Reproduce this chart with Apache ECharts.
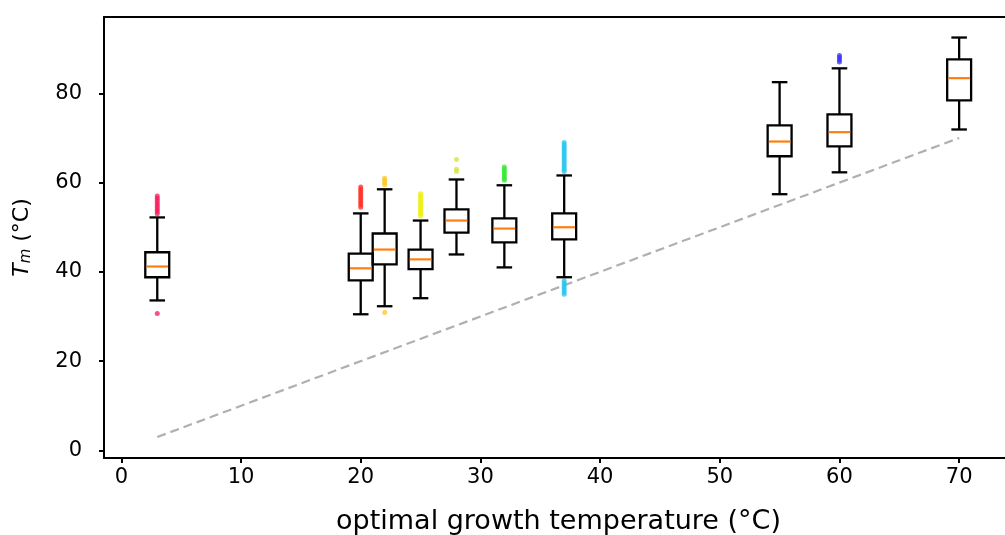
<!DOCTYPE html>
<html>
<head>
<meta charset="utf-8">
<script src="https://cdn.jsdelivr.net/npm/echarts@6/dist/echarts.min.js"></script>
<style>
html,body{margin:0;padding:0;background:#fff;}
#chart{width:1005px;height:535px;}
</style>
</head>
<body>
<div id="chart"></div>
<script>
// ---- data ----
const positions   = [3, 20, 22, 25, 28, 32, 37, 55, 60, 70];
const whiskerLow  = [33.6, 30.5, 32.3, 34.1, 43.9, 41.0, 38.8, 57.4, 62.3, 71.9];
const q1          = [38.8, 38.1, 41.7, 40.6, 48.8, 46.6, 47.3, 65.9, 68.1, 78.4];
const medians     = [41.2, 40.8, 45.0, 42.8, 51.5, 49.7, 50.0, 69.2, 71.3, 83.4];
const q3          = [44.4, 44.1, 48.6, 45.0, 54.0, 52.0, 53.1, 72.8, 75.3, 87.6];
const whiskerHigh = [52.2, 53.1, 58.5, 51.5, 60.7, 59.4, 61.6, 82.5, 85.6, 92.5];

const outliers3  = [53.0, 53.5, 54.0, 54.5, 55.0, 55.5, 56.0, 56.5, 57.0, 30.7];
const outliers20 = [54.5, 55.0, 55.5, 56.0, 56.5, 57.0, 57.5, 58.0, 58.5, 59.0];
const outliers22 = [59.5, 60.0, 60.5, 61.0, 30.9];
const outliers25 = [52.5, 53.0, 53.5, 54.0, 54.5, 55.0, 55.5, 56.0, 56.5, 57.0, 57.5];
const outliers28 = [62.5, 63.0, 65.2];
const outliers32 = [60.5, 61.0, 61.5, 62.0, 62.5, 63.0, 63.5];
const outliers37 = [62.5, 63.0, 63.5, 64.0, 64.5, 65.0, 65.5, 66.0, 66.5, 67.0, 67.5, 68.0, 68.5, 69.0,
                    35.0, 35.5, 36.0, 36.5, 37.0, 37.5, 38.0];
const outliers55 = [];
const outliers60 = [87.0, 87.5, 88.0, 88.5];
const outliers70 = [];
const outlierGroups = [outliers3, outliers20, outliers22, outliers25, outliers28,
                       outliers32, outliers37, outliers55, outliers60, outliers70];

const refLineX = [3, 70];
const refLineY = [3, 70];

const xTicks = [0, 10, 20, 30, 40, 50, 60, 70];
const yTicks = [0, 20, 40, 60, 80];

const xLabel = 'optimal growth temperature (°C)';
const yLabel = '{it|T}{sub|m}{n| (°C)}';

// ---- styles ----
const outlierColors = ['#f8175a', '#ff2a1f', '#ffc41f', '#eef000', '#d4e23c',
                       '#2ee82e', '#22c4ee', '#888888', '#3a2cff', '#888888'];
const FONT = 'DejaVu Sans';

// ---- build ----
const boxData = positions.map((p, i) => [p, whiskerLow[i], q1[i], medians[i], q3[i], whiskerHigh[i]]);

const BOX_W = 2.0;   // data units
const CAP_W = 1.3;

function renderBox(params, api) {
  const x = api.value(0);
  const pLo = api.coord([x, api.value(1)]);
  const pQ1 = api.coord([x, api.value(2)]);
  const pMd = api.coord([x, api.value(3)]);
  const pQ3 = api.coord([x, api.value(4)]);
  const pHi = api.coord([x, api.value(5)]);
  const hw = api.size([BOX_W, 0])[0] / 2;
  const cw = api.size([CAP_W, 0])[0] / 2;
  const cx = pMd[0];
  const blk = {stroke: '#000', lineWidth: 2.3, fill: null};
  return {
    type: 'group',
    children: [
      {type: 'line', shape: {x1: cx, y1: pLo[1], x2: cx, y2: pQ1[1]}, style: blk},
      {type: 'line', shape: {x1: cx, y1: pQ3[1], x2: cx, y2: pHi[1]}, style: blk},
      {type: 'line', shape: {x1: cx - cw, y1: pLo[1], x2: cx + cw, y2: pLo[1]}, style: blk},
      {type: 'line', shape: {x1: cx - cw, y1: pHi[1], x2: cx + cw, y2: pHi[1]}, style: blk},
      {type: 'rect', shape: {x: cx - hw, y: pQ3[1], width: 2 * hw, height: pQ1[1] - pQ3[1]},
       style: {stroke: '#000', lineWidth: 2.3, fill: 'rgba(255,255,255,0)'}},
      {type: 'line', shape: {x1: cx - hw + 1.2, y1: pMd[1], x2: cx + hw - 1.2, y2: pMd[1]},
       style: {stroke: '#ff7f0e', lineWidth: 2.2}}
    ]
  };
}

const scatterSeries = outlierGroups.map((vals, i) => ({
  type: 'scatter',
  data: vals.map(v => [positions[i], v]),
  symbol: 'circle',
  symbolSize: 5,
  itemStyle: {color: outlierColors[i], opacity: 0.75},
  z: 3,
  silent: true
}));

const chart = echarts.init(document.getElementById('chart'), null, {renderer: 'canvas'});
chart.setOption({
  animation: false,
  backgroundColor: '#ffffff',
  grid: {left: 104, top: 17, right: -8, bottom: 77, outerBoundsMode: 'none', containLabel: false},
  xAxis: [{
    type: 'value',
    min: -1.45, max: 74.5,
    name: xLabel,
    nameLocation: 'middle',
    nameGap: 50,
    nameTextStyle: {fontFamily: FONT, fontSize: 27, color: '#000'},
    axisLine: {show: true, onZero: false, lineStyle: {color: '#000', width: 2}},
    axisTick: {show: true, length: 5, lineStyle: {color: '#000', width: 2}, customValues: xTicks},
    axisLabel: {fontFamily: FONT, fontSize: 21, color: '#000', margin: 9, customValues: xTicks},
    splitLine: {show: false}
  }, {
    type: 'value', position: 'top',
    min: -1.45, max: 74.5,
    axisLine: {show: true, onZero: false, lineStyle: {color: '#000', width: 2}},
    axisTick: {show: false}, axisLabel: {show: false}, splitLine: {show: false}
  }],
  yAxis: [{
    type: 'value',
    min: -1.7, max: 97.1,
    name: yLabel,
    nameLocation: 'middle',
    nameGap: 70,
    nameTextStyle: {
      fontFamily: FONT, fontSize: 22, color: '#000',
      rich: {
        it: {fontFamily: FONT, fontSize: 22, fontStyle: 'italic', color: '#000'},
        sub: {fontFamily: FONT, fontSize: 15, fontStyle: 'italic', color: '#000', padding: [8, 0, 0, 0]},
        n: {fontFamily: FONT, fontSize: 22, color: '#000'}
      }
    },
    axisLine: {show: true, onZero: false, lineStyle: {color: '#000', width: 2}},
    axisTick: {show: true, length: 5, lineStyle: {color: '#000', width: 2}, customValues: yTicks},
    axisLabel: {fontFamily: FONT, fontSize: 21, color: '#000', margin: 22, customValues: yTicks},
    splitLine: {show: false}
  }],
  series: [
    {
      type: 'line',
      data: refLineX.map((x, i) => [x, refLineY[i]]),
      symbol: 'none',
      lineStyle: {color: '#b0b0b0', width: 2.2, type: [9, 5]},
      z: 1,
      silent: true
    },
    ...scatterSeries,
    {
      type: 'custom',
      data: boxData,
      encode: {x: 0, y: [1, 2, 3, 4, 5]},
      renderItem: renderBox,
      z: 4,
      silent: true
    }
  ]
});
</script>
</body>
</html>
